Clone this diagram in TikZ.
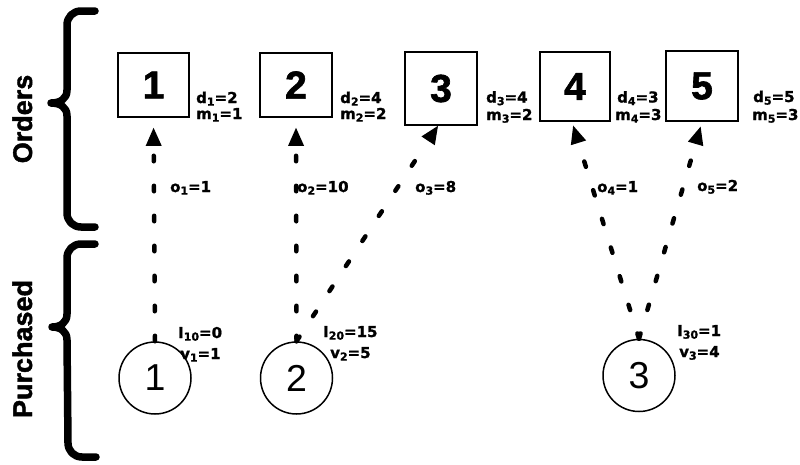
\documentclass[tikz,border=0pt]{standalone}
\usepackage{fontspec}
\setmainfont{Liberation Sans}
\newfontfamily\labelfont{DejaVu Sans Bold}[FakeBold=1.2]
\newfontfamily\heavyfont{Liberation Sans Bold}[FakeBold=1.6]
\usetikzlibrary{arrows.meta}

% lowered index digits for the data labels
\newcommand{\lsub}[1]{\raisebox{-0.32ex}{\fontsize{11}{11}\selectfont #1}}

\tikzset{
  order/.style={draw, line width=1.6pt, minimum width=71pt, inner sep=0pt,
    font=\heavyfont\fontsize{39}{39}\selectfont},
  supply/.style={draw, circle, line width=1.5pt, minimum size=72pt, inner sep=0pt,
    font=\fontsize{37.5}{37.5}\selectfont},
  lab/.style={inner sep=0pt, anchor=base west,
    font=\labelfont\fontsize{15}{15}\selectfont},
  flow/.style={line width=4.5pt, line cap=round, dash pattern=on 5.5pt off 24.5pt,
    -{Triangle[length=18pt,width=16pt,line width=0pt]}},
  brace/.style={line width=7.5pt, line cap=round, line join=round},
  group/.style={rotate=90, anchor=base, inner sep=0pt,
    font=\heavyfont\fontsize{27}{27}\selectfont}
}

\begin{document}
\begin{tikzpicture}[x=1pt, y=-1pt]
\useasboundingbox (0,0) rectangle (800,464);

% order boxes
\node[order, minimum height=64pt] (b1) at (153.5,85) {1};
\node[order, minimum height=64pt, minimum width=72pt] (b2) at (296,85) {2};
\node[order, minimum height=73pt, minimum width=72pt] (b3) at (441,88.5) {3};
\node[order, minimum height=69pt, minimum width=70pt] (b4) at (575,86.5) {4};
\node[order, minimum height=70pt, minimum width=72pt] (b5) at (702,86) {5};

% purchase circles
\node[supply] (c1) at (155,378) {1};
\node[supply] (c2) at (296.5,378) {2};
\node[supply] (c3) at (639,375.5) {3};

% allocation flows
\draw[flow, shorten >=10pt] (c1.north) -- (b1.south);
\draw[flow, shorten >=10pt] (c2.north) -- (b2.south);
\draw[flow] (c2.north) -- ([xshift=-3pt]b3.south);
\draw[flow, shorten >=4pt] (c3.north) -- ([xshift=-3pt]b4.south);
\draw[flow, shorten >=5pt] (c3.north) -- (b5.south);

% order data
\node[lab] (d1) at (196,103) {d\lsub{1}=2};
\node[lab] (m1) at (196,119) {m\lsub{1}=1};
\node[lab] (d2) at (340,103) {d\lsub{2}=4};
\node[lab] (m2) at (340,119) {m\lsub{2}=2};
\node[lab] (d3) at (486,102.5) {d\lsub{3}=4};
\node[lab] (m3) at (486,120) {m\lsub{3}=2};
\node[lab] (d4) at (617,102.5) {d\lsub{4}=3};
\node[lab] (m4) at (615,120) {m\lsub{4}=3};
\node[lab] (d5) at (753,102) {d\lsub{5}=5};
\node[lab] (m5) at (752,120) {m\lsub{5}=3};

% flow amounts
\node[lab] (o1) at (170,192) {o\lsub{1}=1};
\node[lab] (o2) at (297,192) {o\lsub{2}=10};
\node[lab] (o3) at (415,192) {o\lsub{3}=8};
\node[lab] (o4) at (597,192) {o\lsub{4}=1};
\node[lab] (o5) at (697,191) {o\lsub{5}=2};

% purchase data
\node[lab] (i1) at (178,338) {I\lsub{10}=0};
\node[lab] (v1) at (180,359) {v\lsub{1}=1};
\node[lab] (i2) at (323,337) {I\lsub{20}=15};
\node[lab] (v2) at (330,358) {v\lsub{2}=5};
\node[lab] (i3) at (677,336) {I\lsub{30}=1};
\node[lab] (v3) at (679,357) {v\lsub{3}=4};

% group braces
\draw[brace] (95,11) -- (81,11) .. controls (73,11) and (67,17) .. (67,25)
  -- (67,90) .. controls (67,99) and (60,103) .. (51,103)
  .. controls (60,103) and (67,107) .. (67,116)
  -- (67,213) .. controls (67,221) and (73,227) .. (81,227) -- (95,227);
\draw[brace] (95,244) -- (81,244) .. controls (73,244) and (67,250) .. (67,258)
  -- (67,314) .. controls (67,323) and (60,327) .. (52,327)
  .. controls (60,327) and (67,331) .. (67,340)
  -- (68,443) .. controls (68,451) and (74,457) .. (82,457) -- (96,457);

% group names
\node[group] (orders) at (32,119) {Orders};
\node[group] (purchased) at (32,349) {Purchased};
\end{tikzpicture}
\end{document}
